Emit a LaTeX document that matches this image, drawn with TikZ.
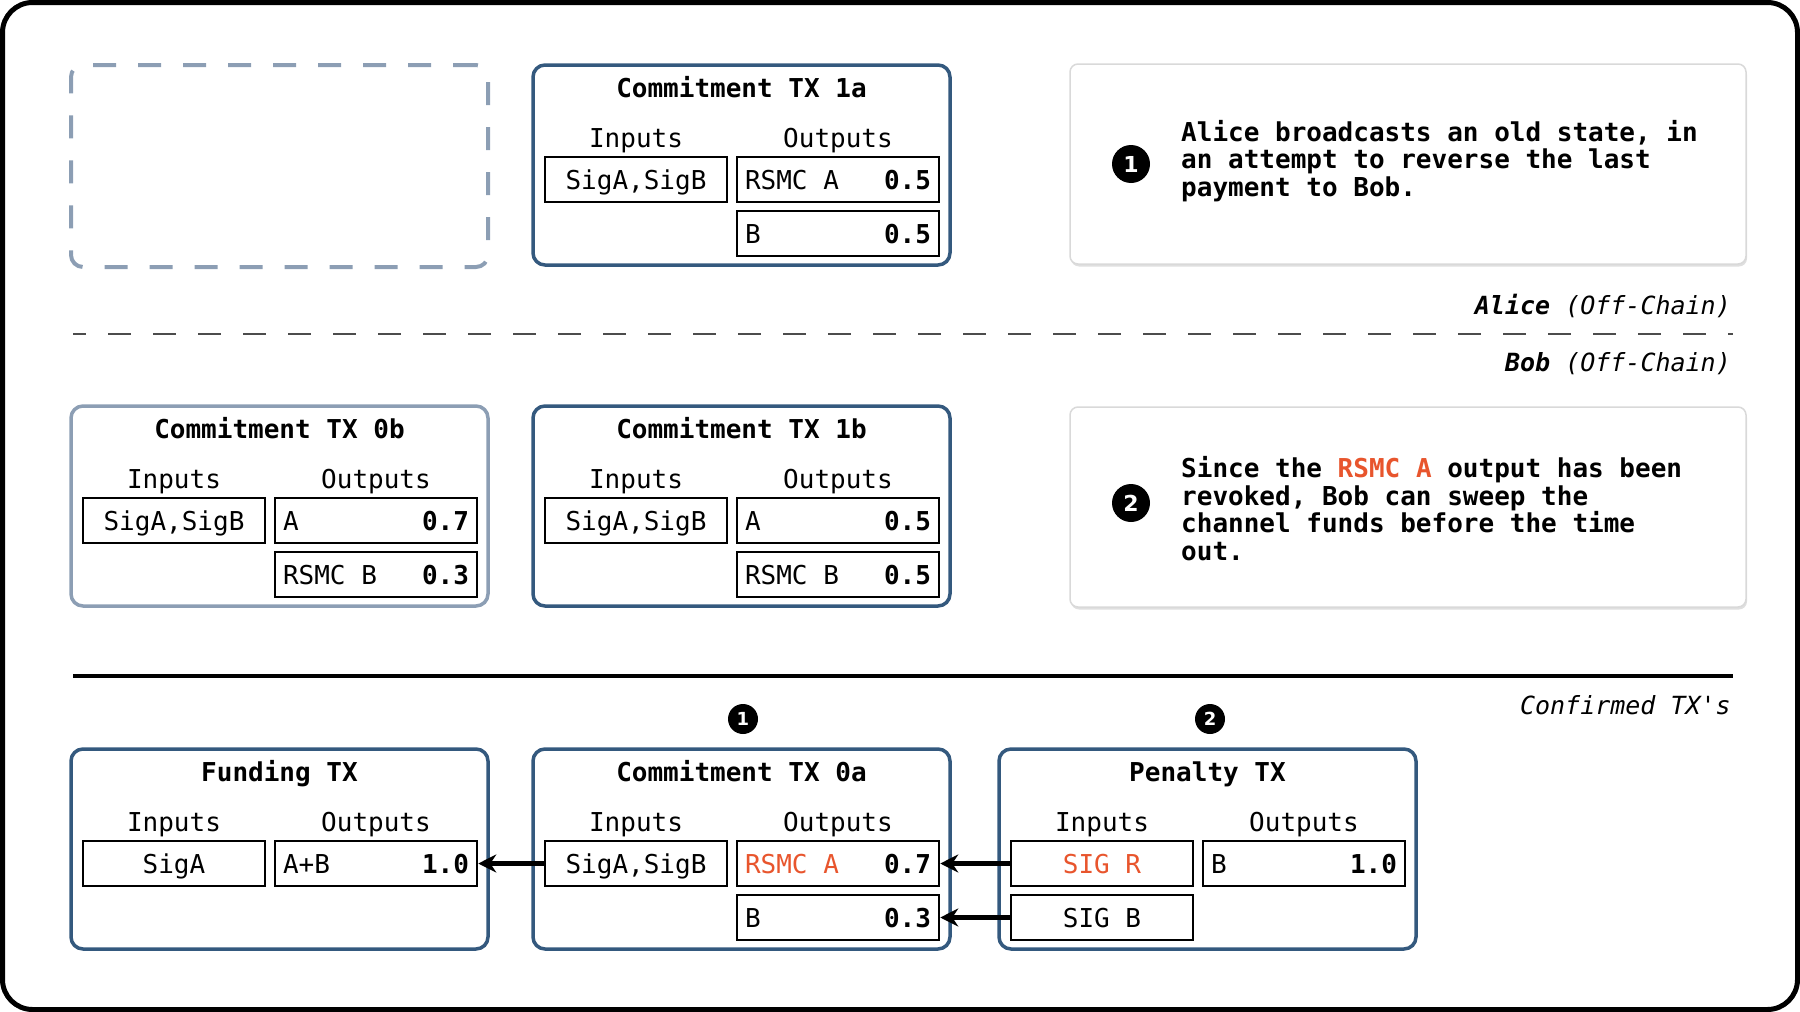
\documentclass[tikz,border=0pt]{standalone}
\usepackage{fontspec}
\setmainfont{DejaVu Sans Mono}
\newfontfamily\numfont{DejaVu Sans}
\usetikzlibrary{arrows.meta,shadows}

\definecolor{txblue}{HTML}{34597E}
\definecolor{oldgray}{HTML}{8C9EB4}
\definecolor{alert}{HTML}{E8552D}
\definecolor{notegray}{HTML}{D9D9D9}

\newcommand{\txout}[2]{\makebox[186pt]{#1\hfill\textbf{#2}}}

\tikzstyle{txbox}=[rectangle, draw=txblue, line width=3.5pt, rounded corners=12pt,
                   minimum width=417pt, minimum height=200pt, inner sep=0pt]
\tikzstyle{oldbox}=[txbox, draw=oldgray]
\tikzstyle{txtitle}=[inner sep=0pt, text height=19pt, text depth=0pt,
                     font=\fontsize{26}{30}\selectfont\bfseries]
\tikzstyle{txhead}=[inner sep=0pt, text height=19pt, text depth=0pt,
                    font=\fontsize{26}{30}\selectfont]
\tikzstyle{cellin}=[rectangle, draw, line width=2.5pt, minimum width=182pt,
                    minimum height=45pt, inner sep=0pt, text height=19pt, text depth=0pt,
                    font=\fontsize{26}{30}\selectfont]
\tikzstyle{cellout}=[cellin, minimum width=202pt, inner xsep=8pt]
\tikzstyle{notebox}=[rectangle, draw=notegray, line width=1.5pt, fill=white,
                     rounded corners=8pt, minimum width=676pt, minimum height=200pt,
                     drop shadow={shadow xshift=1pt, shadow yshift=-2.5pt, opacity=0.25}]
\tikzstyle{notetext}=[align=left, inner sep=0pt, font=\fontsize{26}{27.5}\selectfont\bfseries]
\tikzstyle{marker}=[circle, fill=black, text=white, inner sep=0pt,
                    font=\numfont\bfseries\fontsize{22}{22}\selectfont]
\tikzstyle{sidelabel}=[inner sep=0pt, anchor=east, text height=19pt, text depth=0pt,
                       font=\fontsize{25}{30}\selectfont\itshape]
\tikzstyle{link}=[draw, line width=4.5pt, -{Stealth[length=18pt, width=18pt]}]

\begin{document}
\begin{tikzpicture}[x=1pt, y=-1pt]

\useasboundingbox (0,0) rectangle (1800,1012);
\draw[line width=5pt, rounded corners=30pt] (2.5,2.5) rectangle (1797.5,1009.5);

%%%%%%%%%%%%%%%%%%%%%%%%%%%%%%
% Alice (off-chain)

\node (ghost_A) at (279.5, 166) [oldbox, line width=4pt, minimum height=202pt,
                                 dash pattern=on 23pt off 22pt] {};

\node (tx_1a) at (741.5, 165) [txbox] {};
\node (title_1a) at (741.5, 88) [txtitle] {Commitment TX 1a};
\node (hin_1a) at (636, 138) [txhead] {Inputs};
\node (hout_1a) at (838, 138) [txhead] {Outputs};
\node (sig_1a) at (636, 179.5) [cellin] {SigA,SigB};
\node (out1_1a) at (838, 179.5) [cellout] {\txout{RSMC A}{0.5}};
\node (out2_1a) at (838, 233.5) [cellout] {\txout{B}{0.5}};

\node (note_A) at (1408, 164) [notebox] {};
\node (mark_A) at (1131, 164) [marker, minimum size=38pt] {1};
\node (text_A) at (1181, 161) [notetext, anchor=west]
      {Alice broadcasts an old state, in\\an attempt to reverse the last\\payment to Bob.};

%%%%%%%%%%%%%%%%%%%%%%%%%%%%%%
% separators

\node (lab_alice) at (1731, 305) [sidelabel] {\textbf{Alice} (Off-Chain)};
\draw[black!70, line width=2pt, dash pattern=on 23pt off 22pt, dash phase=10pt]
     (73, 334) -- (1733, 334);
\node (lab_bob) at (1731, 362) [sidelabel] {\textbf{Bob} (Off-Chain)};

%%%%%%%%%%%%%%%%%%%%%%%%%%%%%%
% Bob (off-chain)

\node (tx_0b) at (279.5, 506) [oldbox] {};
\node (title_0b) at (279.5, 429) [txtitle] {Commitment TX 0b};
\node (hin_0b) at (174, 479) [txhead] {Inputs};
\node (hout_0b) at (376, 479) [txhead] {Outputs};
\node (sig_0b) at (174, 520.5) [cellin] {SigA,SigB};
\node (out1_0b) at (376, 520.5) [cellout] {\txout{A}{0.7}};
\node (out2_0b) at (376, 574.5) [cellout] {\txout{RSMC B}{0.3}};

\node (tx_1b) at (741.5, 506) [txbox] {};
\node (title_1b) at (741.5, 429) [txtitle] {Commitment TX 1b};
\node (hin_1b) at (636, 479) [txhead] {Inputs};
\node (hout_1b) at (838, 479) [txhead] {Outputs};
\node (sig_1b) at (636, 520.5) [cellin] {SigA,SigB};
\node (out1_1b) at (838, 520.5) [cellout] {\txout{A}{0.5}};
\node (out2_1b) at (838, 574.5) [cellout] {\txout{RSMC B}{0.5}};

\node (note_B) at (1408, 507) [notebox] {};
\node (mark_B) at (1131, 503) [marker, minimum size=38pt] {2};
\node (text_B) at (1181, 508.5) [notetext, anchor=west]
      {Since the \textcolor{alert}{RSMC A} output has been\\revoked, Bob can sweep the\\channel funds before the time\\out.};

%%%%%%%%%%%%%%%%%%%%%%%%%%%%%%
% confirmed

\draw[line width=3.5pt] (73, 676) -- (1733, 676);
\node (lab_conf) at (1731, 705) [sidelabel] {Confirmed TX\textquotesingle s};

\node (tx_fund) at (279.5, 849) [txbox] {};
\node (title_fund) at (279.5, 772) [txtitle] {Funding TX};
\node (hin_fund) at (174, 822) [txhead] {Inputs};
\node (hout_fund) at (376, 822) [txhead] {Outputs};
\node (sig_fund) at (174, 863.5) [cellin] {SigA};
\node (out1_fund) at (376, 863.5) [cellout] {\txout{A+B}{1.0}};

\node (mark_0a) at (743, 719) [marker, minimum size=30pt,
                               font=\numfont\bfseries\fontsize{18}{18}\selectfont] {1};
\node (tx_0a) at (741.5, 849) [txbox] {};
\node (title_0a) at (741.5, 772) [txtitle] {Commitment TX 0a};
\node (hin_0a) at (636, 822) [txhead] {Inputs};
\node (hout_0a) at (838, 822) [txhead] {Outputs};
\node (sig_0a) at (636, 863.5) [cellin] {SigA,SigB};
\node (out1_0a) at (838, 863.5) [cellout] {\txout{\textcolor{alert}{RSMC A}}{0.7}};
\node (out2_0a) at (838, 917.5) [cellout] {\txout{B}{0.3}};

\node (mark_pen) at (1210, 719) [marker, minimum size=30pt,
                                 font=\numfont\bfseries\fontsize{18}{18}\selectfont] {2};
\node (tx_pen) at (1207.5, 849) [txbox] {};
\node (title_pen) at (1207.5, 772) [txtitle] {Penalty TX};
\node (hin_pen) at (1102, 822) [txhead] {Inputs};
\node (hout_pen) at (1304, 822) [txhead] {Outputs};
\node (sigr_pen) at (1102, 863.5) [cellin] {\textcolor{alert}{SIG R}};
\node (sigb_pen) at (1102, 917.5) [cellin] {SIG B};
\node (out1_pen) at (1304, 863.5) [cellout] {\txout{B}{1.0}};

%%%%%%%%%%%%%%%%%%%%%%%%%%%%%%
% links

\draw [link] (sig_0a) to (out1_fund);
\draw [link] (sigr_pen) to (out1_0a);
\draw [link] (sigb_pen) to (out2_0a);

\end{tikzpicture}
\end{document}
